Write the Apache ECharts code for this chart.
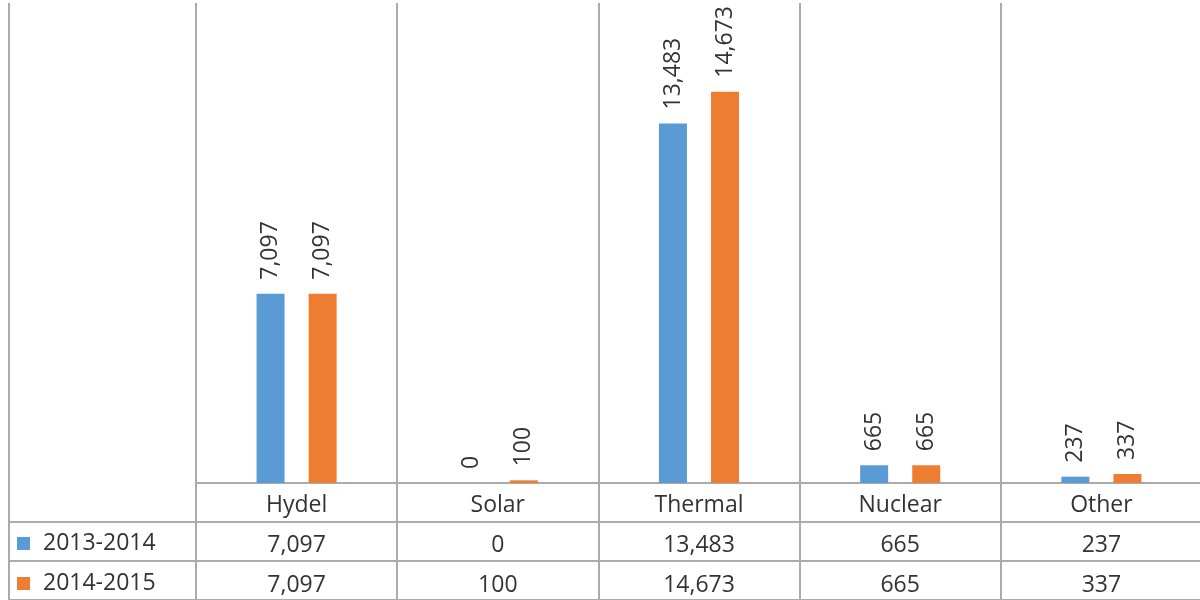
<!DOCTYPE html>
<html>
<head>
<meta charset="utf-8">
<script src="https://cdn.jsdelivr.net/npm/echarts@6/dist/echarts.min.js"></script>
<style>html,body{margin:0;padding:0;background:#fff;overflow:hidden}#c{width:1202px;height:600px}</style>
</head>
<body>
<div id="c"></div>
<script>
var categories = ['Hydel', 'Solar', 'Thermal', 'Nuclear', 'Other'];
var seriesNames = ['2013-2014', '2014-2015'];
var values2013 = [7097, 0, 13483, 665, 237];
var values2014 = [7097, 100, 14673, 665, 337];

var FONT = 'Open Sans';
var TXT = '#333333';
var LINE = '#ababab';
function fmt(v) { return Number(v).toLocaleString('en-US'); }

var chart = echarts.init(document.getElementById('c'), null, {renderer: 'canvas'});
var hidden = {show: false};
var lineStyle = {color: LINE, width: 2};

chart.setOption({
  animation: false,
  backgroundColor: '#fff',
  textStyle: {fontFamily: FONT},
  legend: {
    orient: 'vertical',
    left: 17,
    top: 532,
    padding: 0,
    itemWidth: 13,
    itemHeight: 13,
    itemGap: 17,
    icon: 'rect',
    data: seriesNames,
    formatter: function (n) { return '{t|' + n + '}'; },
    textStyle: {
      fontFamily: FONT,
      rich: {t: {fontFamily: FONT, fontSize: 23, lineHeight: 30, color: TXT, padding: [0, 0, 0, 8]}}
    }
  },
  grid: [
    {left: 196, top: 3, right: 0, height: 480},      // plot
    {left: 196, top: 3, right: 0, height: 600},      // column lines
    {left: 9, top: 3, width: 187, height: 600},      // left column lines
    {left: 9, top: 522, right: 0, height: 80}        // table row lines
  ],
  xAxis: [
    {
      gridIndex: 0, type: 'category', data: categories,
      axisLine: {show: true, lineStyle: lineStyle},
      axisTick: hidden, splitLine: hidden,
      axisLabel: {
        interval: 0, margin: 2,
        formatter: function (val, idx) {
          return '{c|' + val + '}\n{v|' + fmt(values2013[idx]) + '}\n{v|' + fmt(values2014[idx]) + '}';
        },
        rich: {
          c: {fontFamily: FONT, fontSize: 23, lineHeight: 40, color: TXT},
          v: {fontFamily: FONT, fontSize: 23, lineHeight: 40, color: TXT}
        }
      }
    },
    {
      gridIndex: 1, type: 'category', data: categories, position: 'top',
      axisLine: {show: true, lineStyle: lineStyle},
      axisTick: hidden, axisLabel: hidden,
      splitLine: {show: true, interval: 0, lineStyle: lineStyle}
    },
    {
      gridIndex: 2, type: 'value', min: 0, max: 1, interval: 1, position: 'top',
      axisLine: {show: true, lineStyle: lineStyle},
      axisTick: hidden, axisLabel: hidden,
      splitLine: {show: true, lineStyle: lineStyle}
    },
    {
      gridIndex: 3, type: 'value', min: 0, max: 1,
      axisLine: hidden, axisTick: hidden, axisLabel: hidden, splitLine: hidden
    }
  ],
  yAxis: [
    {gridIndex: 0, type: 'value', min: 0, max: 18000,
     axisLine: hidden, axisTick: hidden, axisLabel: hidden, splitLine: hidden},
    {gridIndex: 1, type: 'value', min: 0, max: 1,
     axisLine: hidden, axisTick: hidden, axisLabel: hidden, splitLine: hidden},
    {gridIndex: 2, type: 'value', min: 0, max: 1,
     axisLine: hidden, axisTick: hidden, axisLabel: hidden, splitLine: hidden},
    {gridIndex: 3, type: 'value', min: 0, max: 2, interval: 1,
     axisLine: hidden, axisTick: hidden, axisLabel: hidden,
     splitLine: {show: true, lineStyle: lineStyle}}
  ],
  series: [
    {
      name: seriesNames[0], type: 'bar', xAxisIndex: 0, yAxisIndex: 0,
      data: values2013, barWidth: 28, barGap: '86%',
      itemStyle: {color: '#5B9BD5'},
      label: {
        show: true, position: 'top', distance: 14, rotate: 90,
        align: 'left', verticalAlign: 'middle',
        fontFamily: FONT, fontSize: 23, color: TXT,
        formatter: function (p) { return fmt(p.value); }
      }
    },
    {
      name: seriesNames[1], type: 'bar', xAxisIndex: 0, yAxisIndex: 0,
      data: values2014, barWidth: 28, barGap: '86%',
      itemStyle: {color: '#ED7D31'},
      label: {
        show: true, position: 'top', distance: 14, rotate: 90,
        align: 'left', verticalAlign: 'middle',
        fontFamily: FONT, fontSize: 23, color: TXT,
        formatter: function (p) { return fmt(p.value); }
      }
    }
  ]
});
</script>
</body>
</html>
